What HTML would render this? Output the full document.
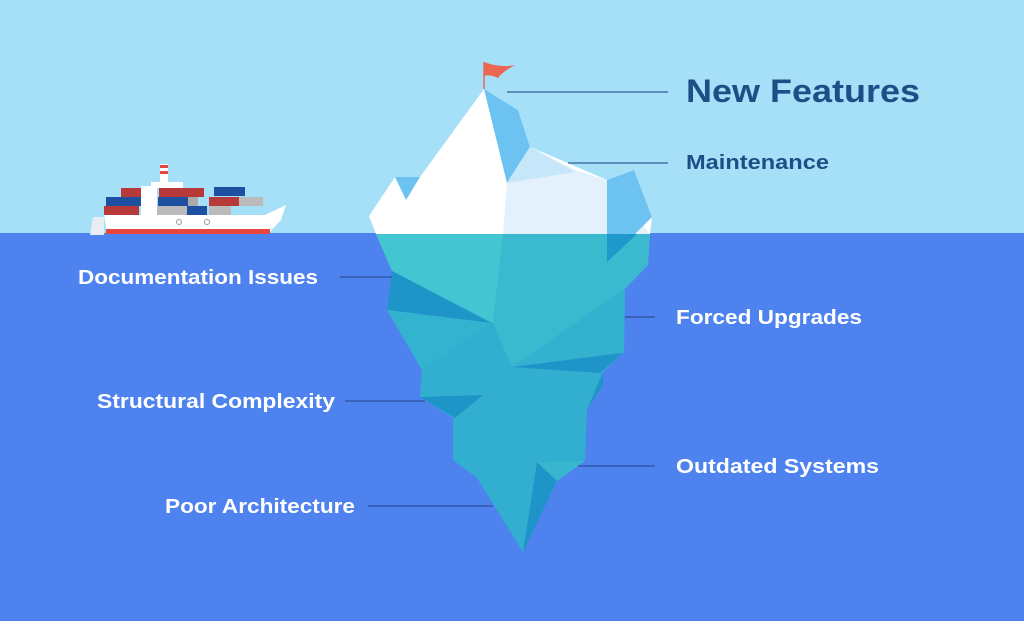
<!DOCTYPE html>
<html><head><style>
body{margin:0;width:1024px;height:621px;overflow:hidden;font-family:"Liberation Sans",sans-serif}
</style></head><body>
<svg width="1024" height="621" viewBox="0 0 1024 621" xmlns="http://www.w3.org/2000/svg">
<rect width="1024" height="234" fill="#a6dff8"/>
<rect y="233" width="1024" height="388" fill="#4e82ee"/>
<!-- ship -->
<g>
<rect x="160" y="164" width="8" height="20" fill="#fff"/>
<rect x="160" y="165" width="8" height="3" fill="#e8463f"/>
<rect x="160" y="171" width="8" height="3" fill="#e8463f"/>
<rect x="151" y="182" width="32" height="6" fill="#fff"/>
<rect x="121" y="188" width="20" height="9" fill="#b8393a"/>
<rect x="159" y="188" width="45" height="9" fill="#b8393a"/>
<rect x="214" y="187" width="31" height="9" fill="#1f4fa0"/>
<rect x="106" y="197" width="35" height="9" fill="#1f4fa0"/>
<rect x="158" y="197" width="30" height="9" fill="#1f4fa0"/>
<rect x="188" y="197" width="10" height="9" fill="#aaa"/>
<rect x="209" y="197" width="30" height="9" fill="#b8393a"/>
<rect x="239" y="197" width="24" height="9" fill="#bbb"/>
<rect x="104" y="206" width="35" height="9" fill="#b8393a"/>
<rect x="157" y="206" width="30" height="9" fill="#bbb"/>
<rect x="187" y="206" width="20" height="9" fill="#1f4fa0"/>
<rect x="209" y="206" width="22" height="9" fill="#bbb"/>
<rect x="141" y="186" width="16" height="29" fill="#fff"/>
<path d="M104 215 L265 215 L286 205 L281 220 L268 234 L107 234 Z" fill="#fff"/>
<rect x="106" y="229" width="164" height="5" fill="#e8463f"/>
<path d="M93 217 L104 217 L104 235 L90 235 Z" fill="#e6eef3"/>
<circle cx="179" cy="222" r="2.5" fill="none" stroke="#999"/>
<circle cx="207" cy="222" r="2.5" fill="none" stroke="#999"/>
</g>
<!-- iceberg above water -->
<path d="M369 216 L395 177 L420 177 L484 89 L518 110 L530 147 L570 164 L607 180 L634 170 L652 217 L650 234 L376 234 Z" fill="#ffffff"/>
<path d="M395 177 L420 177 L406 200 Z" fill="#6cc3f2"/>
<path d="M484 89 L518 110 L530 147 L507 183 Z" fill="#6cc3f2"/>
<path d="M507 183 L530 147 L575 170 L600 178 L607 180 L650 234 L503 234 Z" fill="#e2f1fc"/>
<path d="M507 183 L530 147 L575 172 Z" fill="#c6e6fa"/>
<path d="M607 180 L634 170 L652 217 L607 262 Z" fill="#6cc3f2"/>
<!-- underwater -->
<path d="M376 234 L650 234 L648 265 L625 289 L624 352 L603 372 L603 386 L587 410 L585 461 L557 481 L523 552 L477 478 L453 460 L453 418 L420 397 L422 370 L387 310 L392 271 Z" fill="#31aed0"/>
<path d="M376 234 L503 234 L493 323 L392 271 Z" fill="#43c6d2"/>
<path d="M503 234 L650 234 L648 265 L625 289 L512 367 L493 323 Z" fill="#3bb9cf"/>
<path d="M625 289 L624 352 L512 367 Z" fill="#33b1cf"/>
<path d="M607 234 L637 234 L607 262 Z" fill="#1f99cc"/>
<path d="M392 271 L491 323 L387 310 Z" fill="#1f94c9"/>
<path d="M387 310 L491 323 L422 370 Z" fill="#34b3d0"/>
<path d="M512 367 L623 353 L600 373 Z" fill="#1f94c9"/>
<path d="M420 397 L483 395 L455 418 Z" fill="#1f94c9"/>
<path d="M603 372 L603 386 L587 410 Z" fill="#1f94c9"/>
<path d="M537 462 L557 481 L523 552 Z" fill="#1f94c9"/>
<path d="M537 462 L585 461 L557 481 Z" fill="#38b6cf"/>
<!-- flag -->
<line x1="484" y1="89" x2="484" y2="62" stroke="#e9685a" stroke-width="1.5"/>
<path d="M484 62 Q500 68 515 65 Q502 72 498 78 Q490 74 484 76 Z" fill="#ec6654"/>
<!-- lines -->
<g stroke="#2e5f95" stroke-width="1.3">
<line x1="507" y1="92" x2="668" y2="92"/>
<line x1="568" y1="163" x2="668" y2="163"/>
</g>
<g stroke="#2e4f9a" stroke-width="1.3">
<line x1="340" y1="277" x2="392" y2="277"/>
<line x1="625" y1="317" x2="655" y2="317"/>
<line x1="345" y1="401" x2="425" y2="401"/>
<line x1="578" y1="466" x2="655" y2="466"/>
<line x1="368" y1="506" x2="493" y2="506"/>
</g>
<g font-weight="bold">
<text x="686" y="102" font-size="32" fill="#1d4f86" textLength="234" lengthAdjust="spacingAndGlyphs">New Features</text>
<text x="686" y="169" font-size="20" fill="#1d4f86" textLength="143" lengthAdjust="spacingAndGlyphs">Maintenance</text>
<g fill="#fff" font-size="20">
<text x="78" y="284" textLength="240" lengthAdjust="spacingAndGlyphs">Documentation Issues</text>
<text x="676" y="324" textLength="186" lengthAdjust="spacingAndGlyphs">Forced Upgrades</text>
<text x="97" y="408" textLength="238" lengthAdjust="spacingAndGlyphs">Structural Complexity</text>
<text x="676" y="473" textLength="203" lengthAdjust="spacingAndGlyphs">Outdated Systems</text>
<text x="165" y="513" textLength="190" lengthAdjust="spacingAndGlyphs">Poor Architecture</text>
</g>
</g>
</svg>
</body></html>
